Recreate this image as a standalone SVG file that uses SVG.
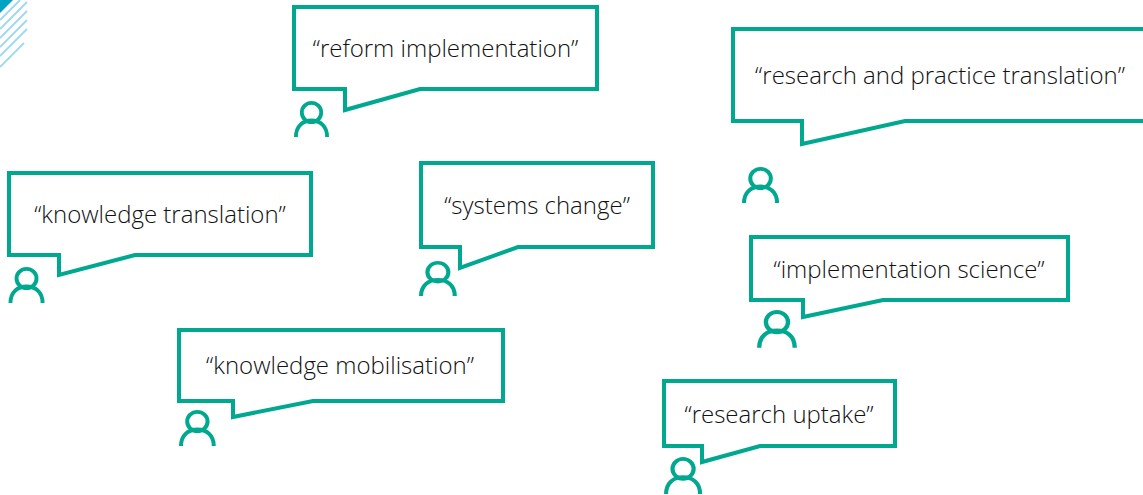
<svg xmlns="http://www.w3.org/2000/svg" width="1143" height="495" viewBox="0 0 1143 495">
<style>
.b{fill:#fff;stroke:#00a88f;stroke-width:4;stroke-linejoin:miter}
.p{fill:none;stroke:#00a88f;stroke-width:3.8}
.h{stroke:#9ed8ee;stroke-width:1.8;fill:none}
text{font-family:"Open Sans","Noto Sans",sans-serif;font-weight:300;font-size:24px;fill:#111;text-anchor:middle}
</style>
<defs>
<g id="person"><circle cx="17.5" cy="11.5" r="9.7"/><path d="M1.9 36C1.9 25 9 19.5 17.5 19.5S33.1 25 33.1 36"/></g>
</defs>
<g id="corner">
<path d="M0 0H13L0 13Z" fill="#00a3c4"/>
<path class="h" d="M0 20L20 0M0 29L27 2M0 38L27 11M0 47L27 20M0 56L27 29M0 67L24 43"/>
</g>
<g id="reform"><path class="b" d="M294 7H597V89H420L345 110V89H294Z"/><text x="445.500" y="57">“reform implementation”</text><use href="#person" class="p" transform="translate(294 101)"/></g>
<g id="research-practice"><path class="b" d="M733 29H1150V121H905L802 144V121H733Z"/><text x="940" y="84">“research and practice translation”</text><use href="#person" class="p" transform="translate(742 167) scale(1.06 1)"/></g>
<g id="knowledge-translation"><path class="b" d="M9 173H311V255H135L59 275V255H9Z"/><text x="160" y="223">“knowledge translation”</text><use href="#person" class="p" transform="translate(8.500 267) scale(1.03 1)"/></g>
<g id="systems-change"><path class="b" d="M421 163H653V247H518L460 268V247H421Z"/><text x="537" y="214">“systems change”</text><use href="#person" class="p" transform="translate(419 261) scale(1.08 .97)"/></g>
<g id="implementation-science"><path class="b" d="M751 237H1068V300H883L803 317V300H751Z"/><text x="909" y="278">“implementation science”</text><use href="#person" class="p" transform="translate(757 310) scale(1.14 1.05)"/></g>
<g id="knowledge-mobilisation"><path class="b" d="M179 330H503V401H313L233 417V401H179Z"/><text x="340" y="374">“knowledge mobilisation”</text><use href="#person" class="p" transform="translate(179 410) scale(1.05 1)"/></g>
<g id="research-uptake"><path class="b" d="M664 381H895V446H760L702 462V446H664Z"/><text x="779" y="423">“research uptake”</text><use href="#person" class="p" transform="translate(664 457) scale(1.09 1.03)"/></g>
</svg>
